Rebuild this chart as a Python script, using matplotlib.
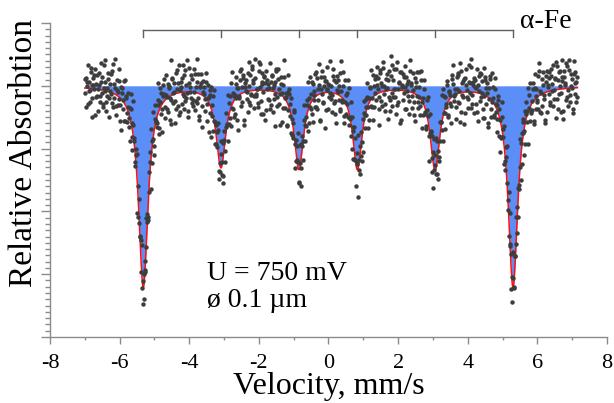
import numpy as np
import matplotlib
matplotlib.use("Agg")
import matplotlib.pyplot as plt
from matplotlib.ticker import MultipleLocator, NullFormatter

plt.rcParams['font.family'] = ['Liberation Serif', 'DejaVu Serif']
plt.rcParams['axes.unicode_minus'] = False

# ---- data ----
v_start, v_stop, n_channels = -7.0, 7.15, 1024
line_positions = [-5.32, -3.09, -0.85, 0.83, 3.06, 5.30]   # mm/s
line_depths = [3.20, 1.28, 1.31, 1.31, 1.32, 3.20]         # relative units (major tick = 1)
line_widths = [0.33, 0.33, 0.32, 0.32, 0.33, 0.33]         # FWHM, mm/s
baseline = 0.0
x_ticks = [-8, -6, -4, -2, 0, 2, 4, 6, 8]
y_major = [-4, -3, -2, -1, 0, 1]
# scatter of the measured points around the fit (hundredths of a relative unit)
noise_centi = [
    12, -25, 8, 31, -4, -18, 22, 5, -37, 14, 0, 27, -11, 19, -29, 6,
    -8, 35, 17, -22, 3, 41, -15, -6, 24, -33, 10, -2, 29, -19, 13, 46,
    -27, 7, -12, 20, 38, -9, -41, 16, 2, -24, 33, 11, -17, 25, -5, -30,
    18, -13, 44, 1, -21, 9, 28, -35, 15, -7, -26, 36, 4, -16, 23, -10,
    30, -3, -28, 13, 21, -44, 6, 34, -20, 26, -1, -14, 40, -23, 8, 17,
    -36, 24, 10, -9, 32, 2, -19, 15, -31, 48, -6, 21, -12, 3, -39, 27,
    5, -17, 37, -26, 14, 19, -3, -22, 29, -8, 42, -34, 12, 0, 23, -15,
    -11, 31, -24, 7, 45, -13, 26, -30, 9, 16, -42, 20, 3, -18, 34, -5,
    22, -38, 13, 28, -7, -21, 39, 4, -16, 11, 25, -29, 1, 36, -10, -27,
    15, 8, -33, 23, -2, 30, -14, 18, -25, 43, -9, 6, -20, 27, 12, -46,
    -4, 19, 33, -12, 24, -36, 7, 16, -1, -28, 38, -15, 21, -6, 29, 10,
    -23, 41, -8, 2, -17, 25, 35, -32, 11, -3, 19, -40, 26, 14, -11, 4,
    37, -19, 20, -27, 9, 13, -45, 28, -6, 32, -14, 0, 24, -35, 16, 50,
    -12, 5, -30, 39, 18, -8, 22, -21, 3, 27, -37, 13, -2, 44, -16, 8,
    26, -41, 14, -5, 33, -24, 1, 17, -29, 11, 36, -9, -18, 20, -3, 31,
    -15, 23, -7, 40, -34, 6, 29, -13, 21, -47, 15, 4, 34, -22, 10, -1,
    9, -26, 32, 18, -10, -39, 24, 3, 12, -20, 47, -6, 17, -31, 28, -14,
    2, 38, -18, -4, 25, 13, -33, 21, -9, 30, -25, 8, 43, -12, -28, 15,
    -35, 11, 27, -16, 6, 34, -2, -23, 19, 39, -11, -30, 14, 22, -7, 36,
    20, -5, -43, 29, 12, -19, 31, 7, -27, 16, 3, -38, 26, -13, 45, -21,
    -9, 28, 1, -32, 37, -15, 10, 24, -40, 5, 22, -3, 33, -24, 18, 0,
    14, -29, 42, 9, -20, 26, -11, -36, 17, 31, -8, 13, -22, 38, -1, -17,
    33, -6, -24, 19, 4, -48, 23, 11, -14, 28, -31, 40, 7, -10, 25, -37,
    -20, 16, 6, -13, 35, 21, -27, 2, 30, -18, 12, -5, -34, 24, 41, -8,
    8, -33, 22, 27, -12, 3, 39, -26, -4, 15, -42, 19, 31, -7, -21, 13,
    -2, 44, -16, 10, -28, 17, 6, 32, -37, 23, -10, 26, 1, -19, 35, -30,
    25, -11, 18, -39, 13, 30, -22, -1, 21, -15, 37, 4, -29, 16, 9, -44,
    -18, 35, -3, 22, -25, 8, 41, -9, -32, 27, 14, -20, 11, 46, -13, 5,
    29, -21, 12, -6, 36, -35, 15, 19, -2, -26, 24, 7, -41, 20, 32, -10,
    3, 17, -31, 34, -14, 11, -4, 27, 43, -23, 2, -17, 28, -8, -36, 22,
    -27, 9, 26, -19, 20, -1, 33, -12, 16, -38, 31, 13, -6, 24, -30, 39,
    11, -40, 23, 5, -15, 29, -24, 38, -9, 18, 0, -28, 36, 7, -19, 14,
    -6, 14, 3, -21, 9, -2, 27, -13, 5, 18, -34, 7, -9, 1, 22, -16,
    10, -4, -19, 33, -1, 12, -27, 4, 16, -8, 2, 24, -14, 39, -5, 8,
    -15, 20, 6, -3, -31, 15, 9, -11, 28, -22, 13, -7, 4, -18, 11, 35,
    2, -26, 17, 10, -9, 25, -40, 19, -4, 7, 30, -12, -23, 14, -1, 6,
    21, -10, -2, 16, 43, -17, 3, -28, 12, 1, -6, 20, 9, -33, 26, -11,
    -7, 8, 29, -24, 5, -14, 18, 11, -3, -38, 23, 2, 15, -9, -20, 31,
    13, -30, 4, 7, -16, 36, -5, 22, -12, 9, -1, -25, 32, 6, -8, 17,
    -19, 1, 24, -11, 14, -6, -35, 10, 27, -15, 5, 12, -2, 21, -29, 3,
    7, 19, -8, -37, 11, 28, 2, -20, 15, -4, 40, -13, -7, 18, 4, -23,
    25, -12, 9, 3, -27, 16, -9, 34, -3, 13, -21, 6, 19, -1, -32, 10,
    -2, 30, -16, 8, 20, -43, 12, 1, -10, 24, 7, -19, -5, 33, 14, -8,
    16, -5, 1, -22, 37, 4, -14, 23, 8, -31, 17, 10, -26, 2, 9, -12,
    -24, 12, 21, 5, -10, -3, 31, -18, 19, 6, -41, 14, 3, -15, 27, 0,
    9, -33, 15, -6, 26, 11, -22, 4, -13, 35, 1, -9, 22, 8, -17, 28,
    -11, 6, -25, 17, 2, -8, 14, 38, -20, -2, 12, 25, -30, 10, 3, -14,
    31, -18, 7, 12, -36, 22, -1, -12, 9, 16, -23, 3, 11, -6, 42, -9,
    -3, 23, -13, -28, 15, 5, 19, -7, 30, -17, 8, -2, 36, -21, 1, 13,
    18, -9, 34, 2, -16, -24, 10, 27, -5, 4, 21, -37, 7, 15, -11, -4,
    -28, 15, 4, 20, -7, 13, -32, 6, 17, -10, -1, 29, -15, 3, 24, 11,
    5, -21, 26, -12, 8, 39, -4, -17, 2, 22, 14, -8, -27, 19, -3, 33,
    14, 2, -9, 28, -19, 1, 11, -44, 25, 7, -12, 18, 5, -24, 10, -6,
    -13, 27, 12, -5, 4, -29, 21, 9, -2, -16, 33, 0, -10, 26, -35, 8,
    22, -7, -18, 9, 32, -11, 3, 15, -26, 12, -4, 20, 41, -14, 6, -20,
    -5, 11, 38, -30, 1, 17, -8, -3, 23, -22, 10, 5, -12, 29, 16, -1,
    1, -17, 6, 24, -13, -39, 28, 13, -6, 18, -28, 9, 2, -9, 35, 12,
    -22, 33, -4, 14, 19, 7, -15, -26, 11, 3, 27, -5, 17, -31, -2, 20,
    10, 4, -34, -1, 26, -12, 36, 5, -18, 21, -7, -14, 8, 24, -25, 2,
    -16, 19, 13, -23, -5, 30, 2, -10, 40, -3, 15, -29, 12, -7, 18, 7,
    27, -13, -1, 8, 22, -20, 10, 18, -37, 14, 5, -11, 31, 1, -19, -8,
    -9, 25, -28, 15, 3, -6, -17, 33, 6, -24, 20, 11, -3, -40, 13, 28,
    6, -3, 17, -15, 29, 9, -21, 0, 14, 37, -12, -26, 23, 4, -6, 16,
    -30, 16, 8, 34, -11, -2, 24, -19, 3, 12, -33, 19, -8, 21, 7, -13,
]
label_x = "Velocity, mm/s"
label_y = "Relative Absorbtion"
phase_label = "\u03b1-Fe"
note_lines = ["U = 750 mV", "\u00f8 0.1 \u00b5m"]

# ---- model (sextet of Lorentzians) ----
vel = np.linspace(v_start, v_stop, n_channels)
fit = np.full_like(vel, baseline)
for p, d, w in zip(line_positions, line_depths, line_widths):
    fit -= d / (1.0 + ((vel - p) / (w / 2.0)) ** 2)
# interleave the two halves of the noise list across the channels
noise = np.array(noise_centi).reshape(2, -1).T.ravel()
counts = fit + 0.012 * noise

# ---- figure ----
fig = plt.figure(figsize=(6.14, 4.03), dpi=100)
ax = fig.add_axes([0.0814, 0.1638, 0.9072, 0.7791])

ax.fill_between(vel, baseline, fit, color='#5b8ef7', lw=0, zorder=1)
ax.plot(vel, fit, color='#ff1010', lw=1.1, zorder=2)
ax.plot(vel, counts, 'o', color='#3d3d3d', ms=3.2, mew=0, zorder=3)

# bracket with line positions
br_y, br_tick = 0.89, 0.11
ax.plot([line_positions[0], line_positions[-1]], [br_y, br_y], color='#606060', lw=1, zorder=2)
for p in line_positions:
    ax.plot([p, p], [br_y, br_y - br_tick], color='#606060', lw=1, zorder=2)
ax.text(5.49, 0.92, phase_label, fontsize=20, ha='left', va='baseline', clip_on=False)

ax.text(-3.48, -3.09, note_lines[0], fontsize=20, ha='left', va='baseline')
ax.text(-3.48, -3.53, note_lines[1], fontsize=20, ha='left', va='baseline')

ax.set_xlim(-8, 8)
ax.set_ylim(-4, 1)
ax.set_xticks(x_ticks)
ax.xaxis.set_minor_locator(MultipleLocator(1))
ax.set_yticks(y_major)
ax.yaxis.set_minor_locator(MultipleLocator(0.1))
ax.yaxis.set_major_formatter(NullFormatter())

for s in ['top', 'right']:
    ax.spines[s].set_visible(False)
for s in ['left', 'bottom']:
    ax.spines[s].set_color('#8a8a8a')
    ax.spines[s].set_linewidth(1.0)

ax.tick_params(axis='x', which='major', direction='out', length=5, width=1,
               color='#8a8a8a', labelsize=16, pad=7)
ax.tick_params(axis='x', which='minor', direction='out', length=2.5, width=1, color='#8a8a8a')
ax.tick_params(axis='y', which='major', direction='out', length=6.5, width=1, color='#8a8a8a')
ax.tick_params(axis='y', which='minor', direction='out', length=3.8, width=1, color='#8a8a8a')

ax.set_xlabel(label_x, fontsize=23, labelpad=-0.5)
ax.set_ylabel(label_y, fontsize=24)
ax.yaxis.set_label_coords(-0.02, 0.586)

fig.savefig("out.png", dpi=100)
